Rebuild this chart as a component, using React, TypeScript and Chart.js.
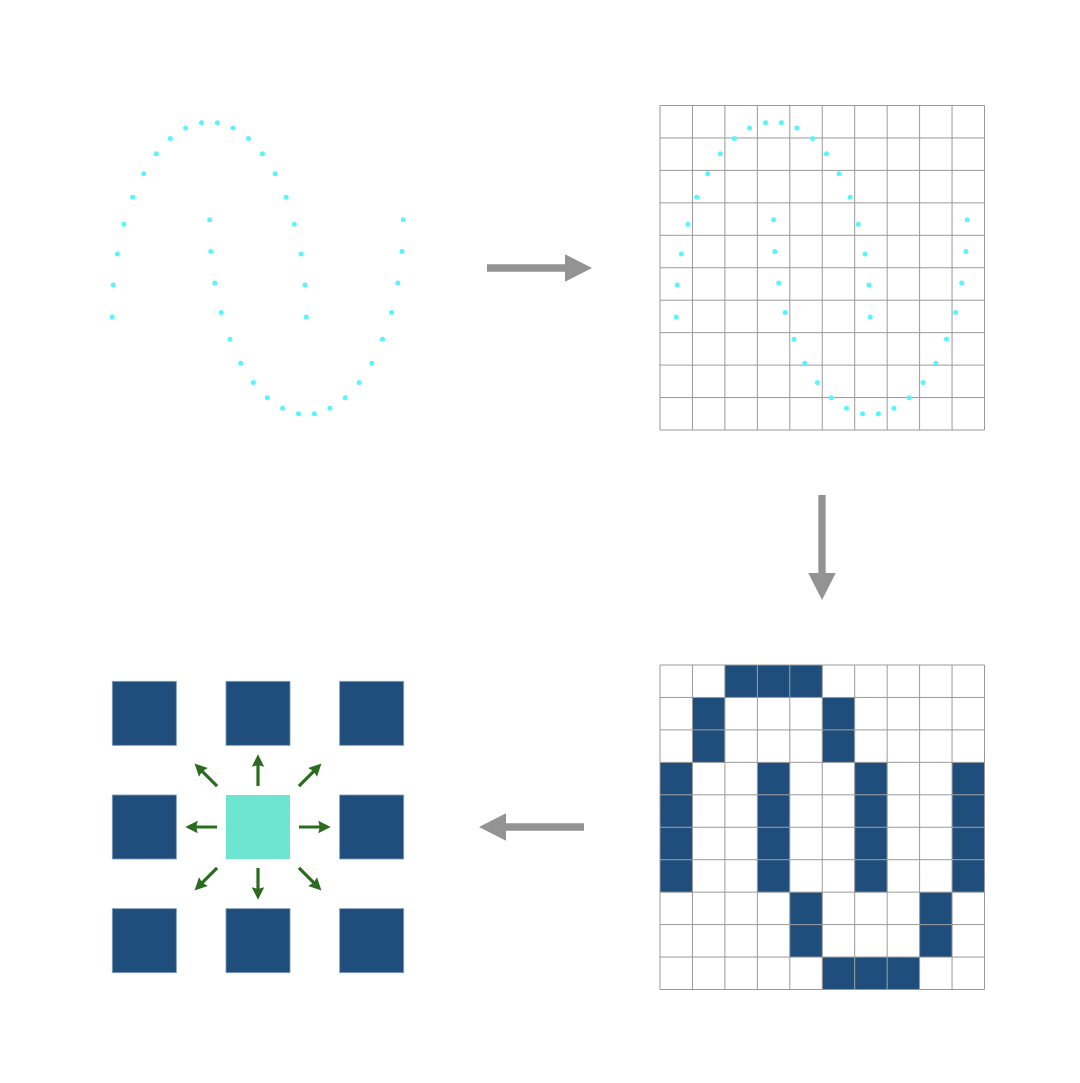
import { useEffect, useRef } from 'react';
import { Chart, registerables } from 'chart.js';

Chart.register(...registerables);

// ---------------- DATA ----------------
// Sampled stroke points, in grid-cell units (10 x 10 grid, origin top-left)
const dotX = [
  0.5, 0.53, 0.66, 0.86, 1.13, 1.47, 1.86, 2.29, 2.76, 3.25,
  3.74, 4.22, 4.7, 5.13, 5.52, 5.86, 6.11, 6.32, 6.44, 6.48,
  3.5, 3.54, 3.66, 3.86, 4.13, 4.46, 4.85, 5.28, 5.75, 6.24,
  6.73, 7.21, 7.68, 8.11, 8.5, 8.83, 9.11, 9.3, 9.43, 9.47,
];
const dotY = [
  6.52, 5.53, 4.58, 3.66, 2.83, 2.1, 1.49, 1.02, 0.69, 0.53,
  0.53, 0.69, 1.02, 1.49, 2.1, 2.83, 3.66, 4.58, 5.53, 6.52,
  3.52, 4.5, 5.47, 6.38, 7.2, 7.94, 8.54, 9.01, 9.33, 9.5,
  9.5, 9.33, 9.01, 8.54, 7.94, 7.2, 6.38, 5.47, 4.5, 3.52,
];

// Rasterised occupancy (rows top to bottom)
const gridRows = 10;
const gridCols = 10;
const occupancy = [
  '0011100000',
  '0100010000',
  '0100010000',
  '1001001001',
  '1001001001',
  '1001001001',
  '1001001001',
  '0000100010',
  '0000100010',
  '0000011100',
];

// 8-neighbourhood offsets
const neighborDX = [-1, 0, 1, -1, 1, -1, 0, 1];
const neighborDY = [-1, -1, -1, 0, 0, 1, 1, 1];

// ---------------- LAYOUT / STYLE ----------------
const W = 1080;
const H = 1083;
const CELL = 32.45;
const PANEL_FREE = { ox: 96, oy: 105.5, unit: CELL };
const PANEL_GRID_TOP = { ox: 660, oy: 105.5, unit: CELL };
const PANEL_GRID_BOTTOM = { ox: 660, oy: 665, unit: CELL };
const PANEL_NEIGHBOR = { ox: 258, oy: 827, unit: 113.7 };
const PANEL_PAGE = { ox: 0, oy: 0, unit: 1 };

const SQUARE_SIZE = 0.563; // in neighbour units
const ARROW_START = 0.36;
const ARROW_LEN = 0.28;

// flow arrows between stages (page units)
const FLOW_ARROWS = [
  { x0: 487, y0: 268, x1: 592, y1: 268 },
  { x0: 822, y0: 495, x1: 822, y1: 600 },
  { x0: 584, y0: 827, x1: 479, y1: 827 },
];

const COLOR_DOT = 'rgb(88,245,255)';
const COLOR_GRID = '#9a9a9a';
const COLOR_FILL = '#1f4e7d';
const COLOR_CENTER = '#6ee5d1';
const COLOR_GREEN = '#2c6c20';
const COLOR_FLOW = '#939393';

function panelScales(idx: string, p: { ox: number; oy: number; unit: number }) {
  return {
    ['x' + idx]: {
      type: 'linear',
      display: false,
      min: -p.ox / p.unit,
      max: (W - p.ox) / p.unit,
    },
    ['y' + idx]: {
      type: 'linear',
      display: false,
      reverse: true,
      min: -p.oy / p.unit,
      max: (H - p.oy) / p.unit,
    },
  };
}

function drawArrow(
  ctx: CanvasRenderingContext2D,
  x0: number, y0: number, x1: number, y1: number,
  shaftW: number, headW: number, headL: number, notch: number, color: string,
) {
  const dx = x1 - x0;
  const dy = y1 - y0;
  const len = Math.hypot(dx, dy);
  const ux = dx / len;
  const uy = dy / len;
  const px = -uy;
  const py = ux;
  const bx = x1 - ux * headL;
  const by = y1 - uy * headL;
  const nx = bx + ux * notch;
  const ny = by + uy * notch;
  ctx.save();
  ctx.fillStyle = color;
  ctx.beginPath();
  ctx.moveTo(x0 + px * shaftW / 2, y0 + py * shaftW / 2);
  ctx.lineTo(nx + px * shaftW / 2, ny + py * shaftW / 2);
  ctx.lineTo(bx + px * headW / 2, by + py * headW / 2);
  ctx.lineTo(x1, y1);
  ctx.lineTo(bx - px * headW / 2, by - py * headW / 2);
  ctx.lineTo(nx - px * shaftW / 2, ny - py * shaftW / 2);
  ctx.lineTo(x0 - px * shaftW / 2, y0 - py * shaftW / 2);
  ctx.closePath();
  ctx.fill();
  ctx.restore();
}

function drawGrid(ctx: CanvasRenderingContext2D, xs: any, ys: any) {
  ctx.save();
  ctx.strokeStyle = COLOR_GRID;
  ctx.lineWidth = 1;
  ctx.beginPath();
  for (let c = 0; c <= gridCols; c++) {
    const x = xs.getPixelForValue(c);
    ctx.moveTo(x, ys.getPixelForValue(0));
    ctx.lineTo(x, ys.getPixelForValue(gridRows));
  }
  for (let r = 0; r <= gridRows; r++) {
    const y = ys.getPixelForValue(r);
    ctx.moveTo(xs.getPixelForValue(0), y);
    ctx.lineTo(xs.getPixelForValue(gridCols), y);
  }
  ctx.stroke();
  ctx.restore();
}

const diagramPlugin = {
  id: 'diagram',
  beforeDatasetsDraw(chart: any) {
    const ctx: CanvasRenderingContext2D = chart.ctx;
    const s = chart.scales;

    // top grid (under the dots)
    drawGrid(ctx, s.xB, s.yB);

    // bottom grid: filled cells then lines
    ctx.save();
    ctx.fillStyle = COLOR_FILL;
    for (let r = 0; r < gridRows; r++) {
      for (let c = 0; c < gridCols; c++) {
        if (occupancy[r][c] === '1') {
          const x0 = s.xC.getPixelForValue(c);
          const x1 = s.xC.getPixelForValue(c + 1);
          const y0 = s.yC.getPixelForValue(r);
          const y1 = s.yC.getPixelForValue(r + 1);
          ctx.fillRect(x0, y0, x1 - x0, y1 - y0);
        }
      }
    }
    ctx.restore();
    drawGrid(ctx, s.xC, s.yC);

    // neighbourhood squares
    const half = SQUARE_SIZE / 2;
    const sq = (cx: number, cy: number, fill: string, edge: string | null) => {
      const x0 = s.xD.getPixelForValue(cx - half);
      const x1 = s.xD.getPixelForValue(cx + half);
      const y0 = s.yD.getPixelForValue(cy - half);
      const y1 = s.yD.getPixelForValue(cy + half);
      ctx.save();
      ctx.fillStyle = fill;
      ctx.fillRect(x0, y0, x1 - x0, y1 - y0);
      if (edge) {
        ctx.strokeStyle = edge;
        ctx.lineWidth = 0.8;
        ctx.strokeRect(x0, y0, x1 - x0, y1 - y0);
      }
      ctx.restore();
    };
    for (let i = 0; i < neighborDX.length; i++) {
      sq(neighborDX[i], neighborDY[i], COLOR_FILL, '#7f9bb8');
    }
    sq(0, 0, COLOR_CENTER, null);
  },
  afterDatasetsDraw(chart: any) {
    const ctx: CanvasRenderingContext2D = chart.ctx;
    const s = chart.scales;

    // neighbourhood arrows
    for (let i = 0; i < neighborDX.length; i++) {
      const dx = neighborDX[i];
      const dy = neighborDY[i];
      const n = Math.hypot(dx, dy);
      const sx = ARROW_START * dx;
      const sy = ARROW_START * dy;
      const ex = sx + (ARROW_LEN * dx) / n;
      const ey = sy + (ARROW_LEN * dy) / n;
      drawArrow(
        ctx,
        s.xD.getPixelForValue(sx), s.yD.getPixelForValue(sy),
        s.xD.getPixelForValue(ex), s.yD.getPixelForValue(ey),
        3.2, 12.5, 12.5, 1.2, COLOR_GREEN,
      );
    }

    // flow arrows
    for (const a of FLOW_ARROWS) {
      drawArrow(
        ctx,
        s.xP.getPixelForValue(a.x0), s.yP.getPixelForValue(a.y0),
        s.xP.getPixelForValue(a.x1), s.yP.getPixelForValue(a.y1),
        7.3, 27.5, 27, 0, COLOR_FLOW,
      );
    }
  },
};

export default function App() {
  const ref = useRef<HTMLCanvasElement | null>(null);

  useEffect(() => {
    document.body.style.margin = '0';
    document.body.style.overflow = 'hidden';
    if (!ref.current) return;
    const pts = dotX.map((x, i) => ({ x, y: dotY[i] }));
    const chart = new Chart(ref.current, {
      type: 'scatter',
      data: {
        datasets: [
          {
            label: 'stroke points',
            data: pts,
            xAxisID: 'xA',
            yAxisID: 'yA',
            pointRadius: 2.5,
            pointBorderWidth: 0,
            backgroundColor: COLOR_DOT,
            borderColor: COLOR_DOT,
            clip: false as any,
          },
          {
            label: 'stroke points on grid',
            data: pts,
            xAxisID: 'xB',
            yAxisID: 'yB',
            pointRadius: 2.5,
            pointBorderWidth: 0,
            backgroundColor: COLOR_DOT,
            borderColor: COLOR_DOT,
            clip: false as any,
          },
        ],
      },
      options: {
        animation: false,
        responsive: false,
        events: [],
        layout: { padding: 0, autoPadding: false },
        plugins: {
          legend: { display: false },
          tooltip: { enabled: false },
        },
        scales: {
          ...panelScales('A', PANEL_FREE),
          ...panelScales('B', PANEL_GRID_TOP),
          ...panelScales('C', PANEL_GRID_BOTTOM),
          ...panelScales('D', PANEL_NEIGHBOR),
          ...panelScales('P', PANEL_PAGE),
        } as any,
      },
      plugins: [diagramPlugin],
    });
    return () => chart.destroy();
  }, []);

  return (
    <div style={{ width: W, height: H, background: '#ffffff' }}>
      <canvas ref={ref} width={W} height={H} style={{ display: 'block' }} />
    </div>
  );
}
